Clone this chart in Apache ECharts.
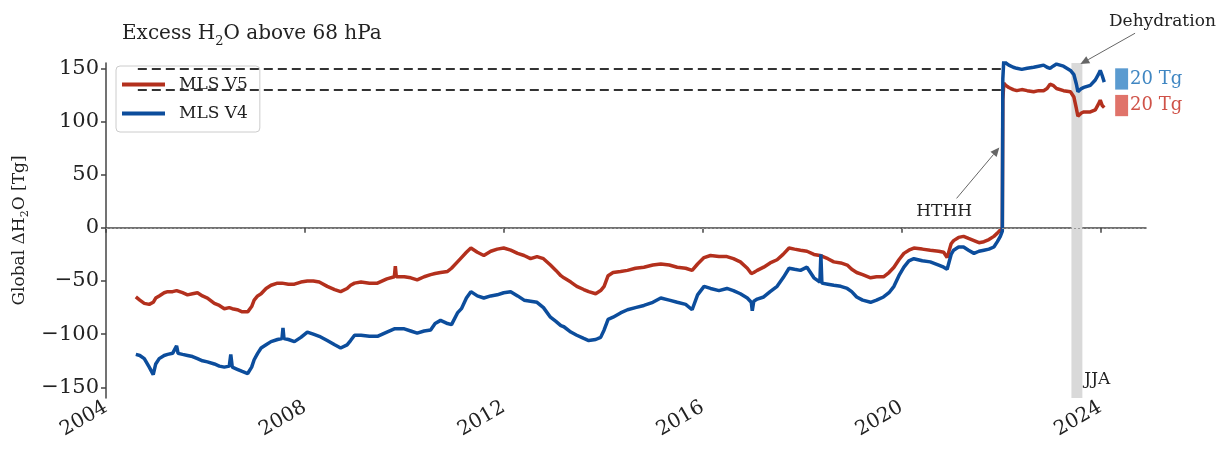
<!DOCTYPE html>
<html><head><meta charset="utf-8">
<script src="https://cdn.jsdelivr.net/npm/echarts@6/dist/echarts.min.js"></script>
<style>html,body{margin:0;padding:0;background:#fff}#c{width:1223px;height:450px}</style>
</head><body><div id="c"></div>
<script>
// ---- data (decimal years, Tg) ----
const dates = [2004.60,2004.68,2004.77,2004.87,2004.95,2005.00,2005.07,2005.17,2005.24,2005.34,2005.42,2005.45,2005.54,2005.64,2005.74,2005.84,2005.94,2006.04,2006.18,2006.28,2006.38,2006.48,2006.51,2006.54,2006.64,2006.74,2006.85,2006.93,2006.98,2007.05,2007.12,2007.22,2007.32,2007.45,2007.54,2007.56,2007.58,2007.67,2007.79,2007.92,2008.05,2008.17,2008.29,2008.45,2008.60,2008.72,2008.85,2008.92,2009.00,2009.13,2009.30,2009.46,2009.65,2009.80,2009.82,2009.84,2010.00,2010.13,2010.26,2010.40,2010.53,2010.62,2010.73,2010.87,2010.95,2011.07,2011.15,2011.25,2011.34,2011.47,2011.60,2011.74,2011.87,2012.00,2012.14,2012.28,2012.41,2012.54,2012.67,2012.80,2012.94,2013.05,2013.15,2013.21,2013.35,2013.47,2013.61,2013.71,2013.85,2013.95,2014.02,2014.10,2014.20,2014.35,2014.49,2014.65,2014.82,2015.00,2015.16,2015.33,2015.49,2015.66,2015.79,2015.90,2016.03,2016.16,2016.33,2016.49,2016.62,2016.76,2016.90,2016.98,2017.00,2017.03,2017.10,2017.23,2017.36,2017.50,2017.62,2017.74,2017.85,2017.97,2018.10,2018.24,2018.36,2018.38,2018.40,2018.52,2018.64,2018.78,2018.91,2019.00,2019.10,2019.22,2019.38,2019.50,2019.64,2019.75,2019.85,2019.95,2020.05,2020.15,2020.25,2020.42,2020.58,2020.75,2020.85,2020.92,2021.00,2021.05,2021.15,2021.25,2021.35,2021.46,2021.56,2021.66,2021.76,2021.86,2021.93,2021.99,2022.03,2022.04,2022.06,2022.10,2022.16,2022.25,2022.32,2022.42,2022.53,2022.66,2022.76,2022.86,2022.93,2022.99,2023.05,2023.12,2023.26,2023.40,2023.47,2023.52,2023.55,2023.62,2023.67,2023.80,2023.90,2023.96,2024.00,2024.04,2024.08];
const mlsV5 = [-65,-68,-71,-72,-70,-66,-64,-61,-60,-60,-59,-59,-61,-63,-62,-61,-64,-66,-71,-73,-76,-75,-75,-76,-77,-79,-79,-74,-68,-64,-62,-57,-54,-52,-52,-52,-52,-53,-53,-51,-50,-50,-51,-55,-58,-60,-57,-54,-52,-51,-52,-52,-48,-46,-36,-46,-46,-47,-49,-46,-44,-43,-42,-41,-38,-32,-28,-23,-19,-23,-26,-22,-20,-19,-21,-24,-26,-29,-27,-29,-35,-40,-45,-47,-51,-55,-58,-60,-62,-59,-55,-45,-42,-41,-40,-38,-37,-35,-34,-35,-37,-38,-40,-34,-28,-26,-27,-27,-29,-32,-38,-43,-43,-42,-40,-37,-33,-30,-25,-19,-20,-21,-22,-25,-26,-26,-27,-29,-32,-33,-35,-39,-42,-44,-47,-46,-46,-42,-37,-30,-24,-21,-19,-20,-21,-22,-23,-28,-15,-12,-9,-8,-10,-12,-14,-13,-11,-8,-5,-2,0,120,136,134,132,130,129,130,129,128,129,129,131,135,134,131,129,128,123,112,105,108,109,109,111,116,120,115,113];
const mlsV4 = [-119,-120,-123,-131,-138,-128,-123,-120,-119,-118,-111,-118,-119,-120,-121,-123,-125,-126,-128,-130,-131,-130,-119,-131,-133,-135,-137,-131,-124,-118,-113,-110,-107,-105,-104,-94,-104,-105,-107,-103,-98,-100,-102,-106,-110,-113,-110,-106,-101,-101,-102,-102,-98,-95,-95,-95,-95,-97,-99,-97,-96,-90,-87,-90,-91,-80,-76,-66,-60,-64,-66,-64,-63,-61,-60,-64,-68,-69,-70,-75,-84,-88,-92,-93,-98,-101,-104,-106,-105,-103,-96,-86,-84,-80,-77,-75,-73,-70,-66,-68,-70,-72,-77,-63,-55,-57,-59,-57,-59,-62,-66,-70,-78,-69,-67,-65,-60,-55,-47,-38,-39,-40,-37,-47,-51,-25,-52,-53,-54,-55,-57,-60,-65,-68,-70,-68,-65,-61,-55,-45,-37,-31,-29,-31,-32,-35,-37,-39,-25,-21,-18,-18,-21,-24,-22,-21,-20,-18,-13,-8,-3,140,158,155,153,151,150,149,150,151,152,153,151,150,152,154,152,148,144,135,128,131,132,134,139,144,148,143,137];
const seriesNames = ['MLS V5','MLS V4'];
const xTicks = [2004,2008,2012,2016,2020,2024];
const yTicks = [-150,-100,-50,0,50,100,150];
const refLevels = [150,130];
const refSpan = [2004.64,2022.04];
const jjaSpan = [2023.42,2023.64];
const scaleBarX = [2024.30,2024.56];
const scaleBarV4 = [130,150];
const scaleBarV5 = [105,125];
const hthhText = [2020.86,15.7];
const hthhArrow = [[2021.11,27.7],[2021.97,75.5]];
const dehydText = [2025.25,194];
const dehydArrow = [[2024.70,183],[2023.60,154]];
const jjaText = [2023.68,-143];

const RED = '#b3301d', BLUE = '#0c4d9c';
const FONT = 'DejaVu Serif';
const chart = echarts.init(document.getElementById('c'));
const v5 = dates.map((d,i)=>[d,mlsV5[i]]);
const v4 = dates.map((d,i)=>[d,mlsV4[i]]);
const minusFmt = v => v < 0 ? '\u2212' + Math.abs(v) : String(v);

chart.setOption({
  animation:false,
  backgroundColor:'#fff',
  title:{
    left:117, top:15,
    text:'{a|Excess H}{s|2}{a|O above 68 hPa}',
    textStyle:{fontWeight:'normal',rich:{
      a:{fontFamily:FONT,fontSize:20,fontWeight:'normal',color:'#222',lineHeight:28},
      s:{fontFamily:FONT,fontSize:13,fontWeight:'normal',color:'#222',lineHeight:14,verticalAlign:'bottom'}
    }}
  },
  legend:{
    data:seriesNames, orient:'vertical', left:116, top:66,
    padding:[10,12,10,6], itemGap:12, itemWidth:43, itemHeight:4, icon:'rect',
    backgroundColor:'rgba(255,255,255,0.8)', borderColor:'#ccc', borderWidth:1, borderRadius:4,
    textStyle:{fontFamily:FONT,fontSize:17,color:'#222',padding:[0,0,0,9]}
  },
  grid:{left:106,right:77,top:63,bottom:52},
  xAxis:{
    type:'value', min:2004, max:2024.92, interval:4,
    axisLine:{show:true,lineStyle:{color:'#444',width:1.5}},
    axisTick:{show:true,length:5,lineStyle:{color:'#444',width:1.5},customValues:xTicks},
    axisLabel:{rotate:30,fontFamily:FONT,fontSize:20,color:'#222',margin:8,customValues:xTicks,formatter:v=>String(v)},
    splitLine:{show:false}
  },
  yAxis:{
    type:'value', min:-160, max:155,
    name:'{a|Global \u0394H}{s|2}{a|O [Tg]}', nameLocation:'middle', nameGap:69,
    nameTextStyle:{rich:{
      a:{fontFamily:FONT,fontSize:17,color:'#222',lineHeight:22},
      s:{fontFamily:FONT,fontSize:11,color:'#222',lineHeight:11,verticalAlign:'bottom'}
    }},
    axisLine:{show:true,lineStyle:{color:'#444',width:1.5}},
    axisTick:{show:true,length:5,lineStyle:{color:'#444',width:1.5},customValues:yTicks},
    axisLabel:{fontFamily:FONT,fontSize:21,color:'#222',margin:7,customValues:yTicks,formatter:minusFmt},
    splitLine:{show:false}
  },
  series:[
    {
      name:'_ref', type:'line', data:[], z:1, silent:true,
      markArea:{silent:true, itemStyle:{color:'#d9d9d9'}, data:[[{xAxis:jjaSpan[0]},{xAxis:jjaSpan[1]}]]},
      markLine:{silent:true, symbol:['none','none'], label:{show:false},
        data:[
          [{coord:[refSpan[0],refLevels[0]],lineStyle:{color:'#333',width:2,type:[9,5]}},{coord:[refSpan[1],refLevels[0]]}],
          [{coord:[refSpan[0],refLevels[1]],lineStyle:{color:'#333',width:2,type:[9,5]}},{coord:[refSpan[1],refLevels[1]]}],
          {yAxis:0, lineStyle:{color:'#999',width:1,type:[2,2]}}
        ]}
    },
    {name:seriesNames[0], type:'line', data:v5, symbol:'none', z:3, color:RED, lineStyle:{color:RED,width:3.5}},
    {name:seriesNames[1], type:'line', data:v4, symbol:'none', z:4, color:BLUE, lineStyle:{color:BLUE,width:3.5}},
    {
      name:'_bars', type:'line', data:[], z:5, silent:true,
      markArea:{silent:true,
        data:[
          [{coord:[scaleBarX[0],scaleBarV4[0]],itemStyle:{color:'#5b9bd0'},label:{show:true,position:'right',distance:2,formatter:'20 Tg',color:'#3f86c2',fontFamily:FONT,fontSize:18}},{coord:[scaleBarX[1],scaleBarV4[1]]}],
          [{coord:[scaleBarX[0],scaleBarV5[0]],itemStyle:{color:'#e0736a'},label:{show:true,position:'right',distance:2,formatter:'20 Tg',color:'#cf5248',fontFamily:FONT,fontSize:18}},{coord:[scaleBarX[1],scaleBarV5[1]]}]
        ]}
    }
  ]
});

function px(p){ return chart.convertToPixel({gridIndex:0}, p); }
function arrowEls(from,to,color){
  const a=px(from), b=px(to);
  const dx=b[0]-a[0], dy=b[1]-a[1], L=Math.hypot(dx,dy), ux=dx/L, uy=dy/L;
  const hl=9, hw=4;
  const bx=b[0]-ux*hl, by=b[1]-uy*hl;
  return [
    {type:'line',z:10,shape:{x1:a[0],y1:a[1],x2:bx,y2:by},style:{stroke:color,lineWidth:1}},
    {type:'polygon',z:10,shape:{points:[[b[0],b[1]],[bx-uy*hw,by+ux*hw],[bx+uy*hw,by-ux*hw]]},style:{fill:color}}
  ];
}
function textEl(txt,p,align){
  const q=px(p);
  return {type:'text',z:10,x:q[0],y:q[1],style:{text:txt,fill:'#222',font:'17px "DejaVu Serif"',align:align||'center',verticalAlign:'middle'}};
}
chart.setOption({graphic:[
  ...arrowEls(hthhArrow[0],hthhArrow[1],'#666'),
  ...arrowEls(dehydArrow[0],dehydArrow[1],'#666'),
  textEl('HTHH',hthhText),
  textEl('Dehydration',dehydText),
  textEl('JJA',jjaText,'left')
]});
</script></body></html>
